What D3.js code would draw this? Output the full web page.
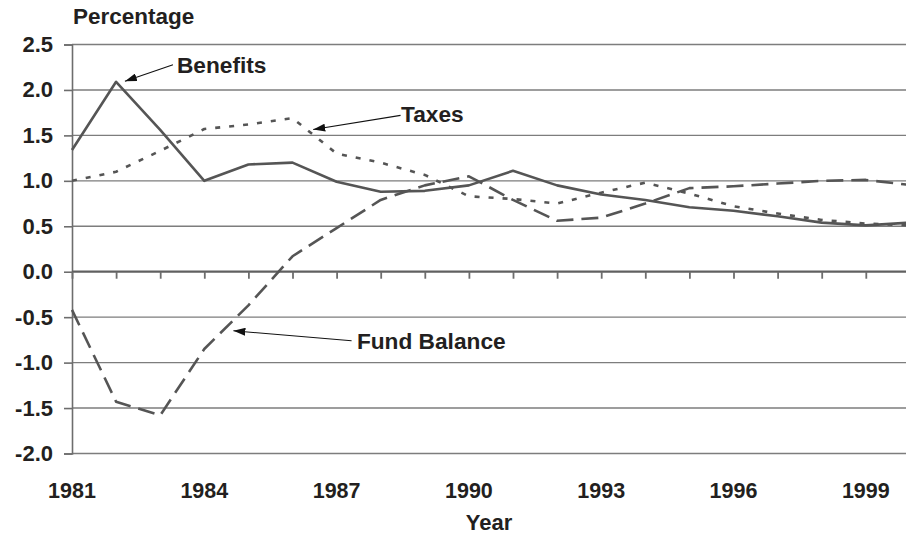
<!DOCTYPE html>
<html>
<head>
<meta charset="utf-8">
<script src="https://cdn.jsdelivr.net/npm/d3@7"></script>
<style>
  html, body { margin: 0; padding: 0; background: #fff; }
  svg { display: block; }
  text { font-family: "Liberation Sans", Arial, Helvetica, sans-serif; font-weight: bold; fill: #231f20; }
</style>
</head>
<body>
<svg id="chart" width="906" height="539"></svg>
<script>
const years = [1981,1982,1983,1984,1985,1986,1987,1988,1989,1990,1991,1992,1993,1994,1995,1996,1997,1998,1999,2000];
const benefits = [1.34,2.09,1.56,1.00,1.18,1.20,0.99,0.88,0.89,0.95,1.11,0.95,0.85,0.79,0.71,0.67,0.61,0.54,0.51,0.54];
const taxes    = [1.00,1.10,1.33,1.57,1.62,1.69,1.30,1.20,1.065,0.83,0.80,0.75,0.87,0.98,0.86,0.72,0.64,0.57,0.53,0.51];
const fundBalance = [-0.42,-1.43,-1.58,-0.85,-0.37,0.17,0.48,0.79,0.95,1.05,0.79,0.56,0.595,0.75,0.92,0.94,0.97,1.00,1.01,0.955];
const yTicks = [2.5,2.0,1.5,1.0,0.5,0.0,-0.5,-1.0,-1.5,-2.0];
const xTickLabels = [1981,1984,1987,1990,1993,1996,1999];
const seriesNames = ["Benefits","Taxes","Fund Balance"];
// annotation anchors in data space: [label, tipYear, tipValue, tailYear, tailValue, textYear, textValue]
const annotations = [
  ["Benefits", 1982.2, 2.096, 1983.29, 2.277, 1983.38, 2.19],
  ["Taxes", 1986.47, 1.564, 1988.45, 1.72, 1988.46, 1.65],
  ["Fund Balance", 1984.66, -0.65, 1987.34, -0.76, 1987.46, -0.848]
];

(function () {
const svg = d3.select("#chart");
const padL = 72, padT = 44.5, padB = 453.5;
const x = d3.scaleLinear().domain([1981, 2000]).range([padL, padL + 19 * 44.1]);
const y = d3.scaleLinear().domain([-2, 2.5]).range([padB, padT]);

svg.append("rect").attr("width", 906).attr("height", 539).attr("fill", "#fff");

// gridlines
svg.append("g").selectAll("line").data(yTicks.filter(d => d !== 0)).join("line")
  .attr("x1", padL).attr("x2", 906)
  .attr("y1", d => y(d)).attr("y2", d => y(d))
  .attr("stroke", "#7d7d7d").attr("stroke-width", 1.4);

// y axis
const yAxis = d3.axisLeft(y).tickValues(yTicks).tickSize(8).tickPadding(11).tickFormat(d => d.toFixed(1));
const gy = svg.append("g").attr("transform", `translate(${padL},0)`).call(yAxis);
gy.select(".domain").attr("stroke", "#6d6d6d").attr("stroke-width", 1.6);
gy.selectAll(".tick line").attr("stroke", "#6d6d6d").attr("stroke-width", 1.6);
gy.selectAll(".tick text").style("font-size", "22px").attr("fill", "#231f20")
  .style("font-family", '"Liberation Sans", Arial, sans-serif').style("font-weight", "bold");

// x axis at zero with yearly ticks
const xAxis = d3.axisBottom(x).tickValues(years.filter(d => d < 2000)).tickSize(7).tickFormat("");
const gx = svg.append("g").attr("transform", `translate(0,${y(0)})`).call(xAxis);
gx.select(".domain").attr("d", `M${padL},0H906`).attr("stroke", "#606060").attr("stroke-width", 2.2);
gx.selectAll(".tick line").attr("stroke", "#6d6d6d").attr("stroke-width", 1.8);

// x tick labels at bottom
svg.append("g").selectAll("text").data(xTickLabels).join("text")
  .attr("x", d => x(d)).attr("y", 498).attr("text-anchor", "middle")
  .style("font-size", "21.5px").text(d => d);

// titles
svg.append("text").attr("x", 73).attr("y", 24).style("font-size", "22.5px").text("Percentage");
svg.append("text").attr("x", (padL + 906) / 2).attr("y", 530).attr("text-anchor", "middle").style("font-size", "22px").text("Year");

// lines
const line = d3.line().x((d, i) => x(years[i])).y(d => y(d));
const styles = [
  { data: benefits, dash: null },
  { data: taxes, dash: "5,9" },
  { data: fundBalance, dash: "17,8" }
];
svg.append("g").selectAll("path").data(styles).join("path")
  .attr("d", d => line(d.data))
  .attr("fill", "none").attr("stroke", "#555").attr("stroke-width", 2.6)
  .attr("stroke-linejoin", "round")
  .attr("stroke-dasharray", d => d.dash);

// annotations
svg.append("defs").append("marker").attr("id", "arr")
  .attr("viewBox", "0 0 12 8").attr("refX", 12).attr("refY", 4)
  .attr("markerWidth", 12).attr("markerHeight", 8).attr("markerUnits", "userSpaceOnUse")
  .attr("orient", "auto")
  .append("path").attr("d", "M0,0L12,4L0,8Z").attr("fill", "#111");

const ann = svg.append("g").selectAll("g").data(annotations).join("g");
ann.append("line")
  .attr("x1", d => x(d[3])).attr("y1", d => y(d[4]))
  .attr("x2", d => x(d[1])).attr("y2", d => y(d[2]))
  .attr("stroke", "#111").attr("stroke-width", 1.1).attr("marker-end", "url(#arr)");
ann.append("text").attr("x", d => x(d[5])).attr("y", d => y(d[6]))
  .style("font-size", "22.7px").text(d => d[0]);
})();
</script>
</body>
</html>
